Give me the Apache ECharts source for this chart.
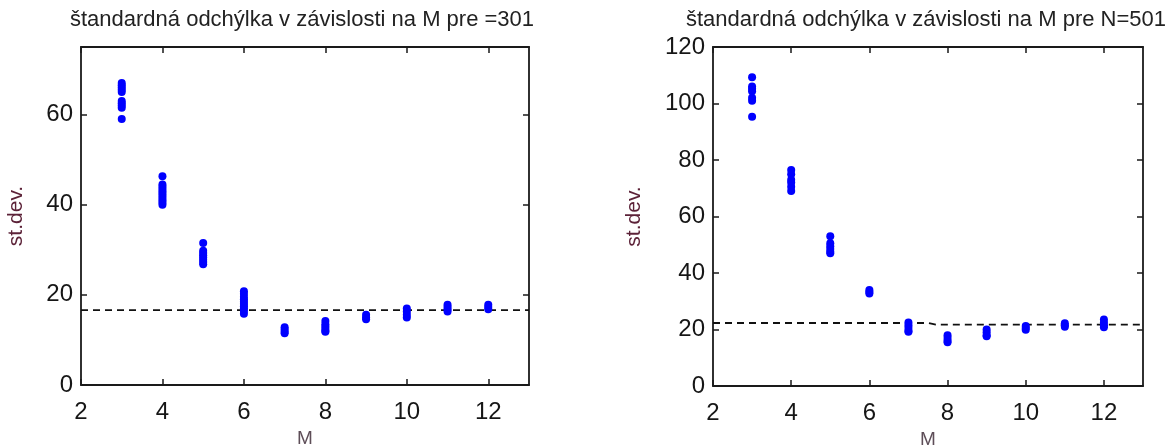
<!DOCTYPE html>
<html>
<head>
<meta charset="utf-8">
<script src="https://cdn.jsdelivr.net/npm/echarts@6/dist/echarts.min.js"></script>
<style>
  html, body { margin: 0; padding: 0; background: #fff; }
  #chart { width: 1167px; height: 448px; }
</style>
</head>
<body>
<div id="chart"></div>
<script>
// Filter length M for each group of runs
const mLevels = [3, 4, 5, 6, 7, 8, 9, 10, 11, 12];

// Standard deviation of each run, one row per M (N = 301)
const sdN301 = [
  [67, 66.5, 66, 65.5, 65, 63, 62.5, 62, 61.5, 59],
  [46.3, 44.5, 44, 43.5, 43, 42.5, 42, 41.5, 41, 40.5, 40],
  [31.5, 29.8, 29.3, 28.8, 28.3, 27.8, 27.3, 26.8],
  [20.8, 20.2, 19.5, 19, 18.5, 18, 17.5, 17, 16.5, 15.8],
  [12.8, 12.3, 11.8, 11.5],
  [14.2, 13.5, 13, 12.5, 12, 11.8],
  [15.6, 15, 14.6],
  [17, 16.3, 15.6, 15],
  [17.8, 17.3, 16.8, 16.3],
  [17.8, 17.3, 16.8]
];

// Standard deviation of each run, one row per M (N = 501)
const sdN501 = [
  [109.3, 106, 105.2, 104.3, 102, 101, 95.3],
  [76.5, 75, 73, 72, 70.5, 69],
  [53, 50.5, 49.5, 48.5, 47.5, 47],
  [34, 33.3, 32.7],
  [22.5, 21.5, 20.5, 19.5, 19.2],
  [18, 17, 16, 15.5],
  [20, 19, 18, 17.6],
  [21.2, 20.5, 19.9],
  [22.2, 21.5, 21],
  [23.5, 22.5, 21.5, 20.8]
];

// Reference level (dashed line)
const refN301X = [2, 13];
const refN301Y = [16.6, 16.6];
const refN501X = [2, 7.5, 7.7, 13];
const refN501Y = [22.3, 22.3, 21.7, 21.7];

// Axis ticks
const xTicks = [2, 4, 6, 8, 10, 12];
const yTicksN301 = [0, 20, 40, 60];
const yTicksN501 = [0, 20, 40, 60, 80, 100, 120];

const titles = [
  'štandardná odchýlka v závislosti na M pre =301',
  'štandardná odchýlka v závislosti na M pre N=501'
];

const FONT = '"Liberation Sans", Arial, sans-serif';
const FRAME = '#1a1a1a';

function points(rows) {
  const out = [];
  rows.forEach((vals, i) => vals.forEach(v => out.push([mLevels[i], v])));
  return out;
}
function zipXY(xs, ys) { return xs.map((x, i) => [x, ys[i]]); }

function frameAxis(extra) {
  return Object.assign({
    type: 'value',
    axisLine: { show: true, onZero: false, lineStyle: { color: FRAME, width: 1.8 } },
    axisLabel: { show: false },
    splitLine: { show: false }
  }, extra);
}
function ticks(values) {
  return { show: true, inside: true, length: 6, customValues: values, lineStyle: { color: FRAME, width: 1.5 } };
}

function axesFor(gi, yMax, yTicks, yNameGap) {
  const labelStyle = { color: '#161616', fontSize: 24, fontFamily: FONT };
  const xs = [
    frameAxis({
      gridIndex: gi, min: 2, max: 13, interval: 2, position: 'bottom',
      axisTick: ticks(xTicks),
      axisLabel: Object.assign({ show: true, customValues: xTicks, margin: 15 }, labelStyle),
      name: 'M', nameLocation: 'middle', nameGap: 44,
      nameTextStyle: { color: '#5e4e58', fontSize: 19, fontFamily: FONT }
    }),
    frameAxis({
      gridIndex: gi, min: 2, max: 13, interval: 2, position: 'top',
      axisTick: ticks(xTicks)
    })
  ];
  const ys = [
    frameAxis({
      gridIndex: gi, min: 0, max: yMax, interval: 20, position: 'left',
      axisTick: ticks(yTicks),
      axisLabel: Object.assign({ show: true, customValues: yTicks, margin: 8 }, labelStyle),
      name: 'st.dev.', nameLocation: 'middle', nameGap: yNameGap,
      nameTextStyle: { color: '#5c2238', fontSize: 21, fontFamily: FONT }
    }),
    frameAxis({
      gridIndex: gi, min: 0, max: yMax, interval: 20, position: 'right',
      axisTick: ticks(yTicks)
    })
  ];
  return { xs, ys };
}

const a0 = axesFor(0, 75, yTicksN301, 54);
const a1 = axesFor(1, 120, yTicksN501, 68);

function scatter(xi, yi, rows) {
  return {
    type: 'scatter', xAxisIndex: xi, yAxisIndex: yi,
    data: points(rows), symbol: 'circle', symbolSize: 8,
    itemStyle: { color: '#0000ff', opacity: 1 }, silent: true, z: 3
  };
}
function refLine(xi, yi, xs, ys) {
  return {
    type: 'line', xAxisIndex: xi, yAxisIndex: yi,
    data: zipXY(xs, ys), showSymbol: false, silent: true, z: 2,
    lineStyle: { color: '#111', width: 1.8, type: [7, 5] }
  };
}

const chart = echarts.init(document.getElementById('chart'), null, { renderer: 'canvas' });
chart.setOption({
  animation: false,
  backgroundColor: '#ffffff',
  title: [
    { text: titles[0], left: 297, top: 4, textAlign: 'center',
      textStyle: { color: '#222', fontSize: 22, fontWeight: 'normal', fontFamily: FONT } },
    { text: titles[1], left: 921, top: 4, textAlign: 'center',
      textStyle: { color: '#222', fontSize: 22, fontWeight: 'normal', fontFamily: FONT } }
  ],
  grid: [
    { left: 81, top: 47, width: 448, height: 338, outerBoundsMode: 'none', containLabel: false },
    { left: 713, top: 47, width: 430, height: 339, outerBoundsMode: 'none', containLabel: false }
  ],
  xAxis: [].concat(a0.xs, a1.xs),
  yAxis: [].concat(a0.ys, a1.ys),
  series: [
    refLine(0, 0, refN301X, refN301Y),
    scatter(0, 0, sdN301),
    refLine(2, 2, refN501X, refN501Y),
    scatter(2, 2, sdN501)
  ]
});
</script>
</body>
</html>
